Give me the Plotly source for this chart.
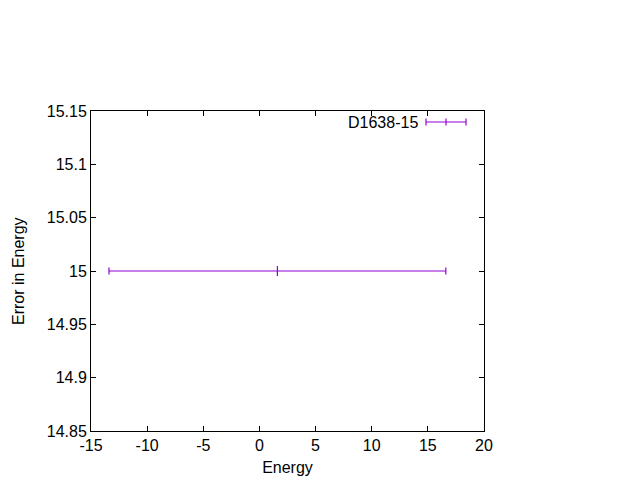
import plotly.graph_objects as go

# Data
energy = [1.6]
energy_error = [15.0]
error_in_energy = [15.0]
series_name = "D1638-15"
x_title = "Energy"
y_title = "Error in Energy"

x_tickvals = [-15, -10, -5, 0, 5, 10, 15, 20]
x_ticktext = ["-15", "-10", "-5", "0", "5", "10", "15", "20"]
y_tickvals = [14.85, 14.9, 14.95, 15.0, 15.05, 15.1, 15.15]
y_ticktext = ["14.85", "14.9", "14.95", "15", "15.05", "15.1", "15.15"]

color = "#9400D3"
font = dict(family="Liberation Sans, Arial, sans-serif", size=16, color="black")

fig = go.Figure()
fig.add_trace(go.Scatter(
    x=energy, y=error_in_energy, mode="markers", name=series_name,
    marker=dict(symbol="line-ns", size=7, color=color, line=dict(color=color, width=1.2)),
    error_x=dict(type="data", array=energy_error, symmetric=True, color=color, thickness=1.2, width=3.5),
    showlegend=False,
))

# page body has an 8px margin; target plot box in window pixels
OFF = 8
L, R, T, B = 91, 484, 111, 431
def px(xp): return (xp - L) / (R - L)
def py(yp): return (B - yp) / (B - T)

ly = 122
fig.add_annotation(x=px(418), y=py(ly), xref="paper", yref="paper", text=series_name,
                   showarrow=False, xanchor="right", yanchor="middle", font=font,
                   xshift=2)
fig.add_shape(type="line", xref="paper", yref="paper", x0=px(426), x1=px(466), y0=py(ly), y1=py(ly),
              line=dict(color=color, width=1.2))
for xt in (426, 446, 466):
    fig.add_shape(type="line", xref="paper", yref="paper", x0=px(xt), x1=px(xt),
                  y0=py(ly - 3.5), y1=py(ly + 3.5), line=dict(color=color, width=1.2))

# y-axis title as a rotated annotation (kept inside the figure's left edge)
fig.add_annotation(x=0, y=0.5, xref="paper", yref="paper", text=y_title, textangle=-90,
                   showarrow=False, xanchor="center", yanchor="middle", font=font,
                   xshift=18 - L)

axis_common = dict(showline=True, linecolor="black", linewidth=1, mirror="ticks",
                   ticks="inside", ticklen=5, tickcolor="black", tickwidth=1,
                   showgrid=False, zeroline=False, tickfont=font, automargin=False)

fig.update_layout(
    width=640, height=480,
    margin=dict(l=L - OFF, r=640 - R + OFF, t=T - OFF, b=480 - B + OFF, pad=0),
    plot_bgcolor="white", paper_bgcolor="white",
    font=font,
    xaxis=dict(range=[-15, 20], tickvals=x_tickvals, ticktext=x_ticktext,
               title=dict(text=x_title, font=font, standoff=8), **axis_common),
    yaxis=dict(range=[14.85, 15.15], tickvals=y_tickvals, ticktext=y_ticktext, **axis_common),
)

fig.write_html("out.html")
